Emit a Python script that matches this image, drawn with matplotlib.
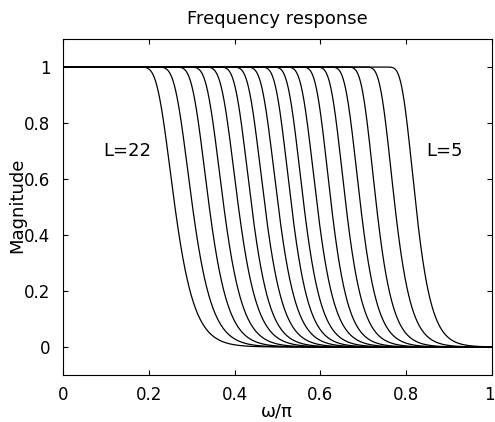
import numpy as np
import matplotlib
matplotlib.use("Agg")
import matplotlib.pyplot as plt
import matplotlib.transforms as mtransforms

plt.rcParams['font.family'] = ['DejaVu Sans']

# Half-magnitude frequencies (omega/pi) of each curve (left: L=22 ... right: L=5)
cutoffs = [0.261, 0.302, 0.341, 0.375, 0.409, 0.440, 0.471, 0.502, 0.533,
           0.562, 0.593, 0.626, 0.660, 0.694, 0.731, 0.774, 0.823]
# Transition widths (omega/pi) of each curve
widths = [0.031, 0.031, 0.030, 0.030, 0.030, 0.029, 0.029, 0.029, 0.028,
          0.028, 0.028, 0.027, 0.027, 0.027, 0.026, 0.026, 0.025]
x_ticks = [0, 0.2, 0.4, 0.6, 0.8, 1]
y_ticks = [0, 0.2, 0.4, 0.6, 0.8, 1]
tick_labels = ["0", "0.2", "0.4", "0.6", "0.8", "1"]
labels = ["L=22", "L=5"]
label_pos = [(0.149, 0.70), (0.890, 0.70)]


def response(w, c, s):
    z = -np.log(np.log(2.0)) + (w - c) / s
    return 1.0 - np.exp(-np.exp(-z))


fig = plt.figure(figsize=(4.95, 4.22), dpi=100)
ax = fig.add_axes([63 / 495, 1 - 375 / 422, 429 / 495, 336 / 422])
w = np.linspace(0, 1, 1500)
for c, s in zip(cutoffs, widths):
    ax.plot(w, response(w, c, s), color='black', lw=0.9)

ax.set_xlim(0, 1)
ax.set_ylim(-0.1, 1.1)
ax.set_xticks(x_ticks)
ax.set_xticklabels(tick_labels)
ax.set_yticks(y_ticks)
ax.set_yticklabels(tick_labels)
ax.tick_params(direction='in', top=True, right=True, labelsize=12, length=3.5,
               width=0.8)
ax.tick_params(axis='x', pad=8)
ax.tick_params(axis='y', pad=9)
# keep the last x tick label inside the figure edge
last = ax.get_xticklabels()[-1]
last.set_horizontalalignment('right')
last.set_transform(last.get_transform() +
                   mtransforms.ScaledTranslation(3 / 100, 0, fig.dpi_scale_trans))
for sp in ax.spines.values():
    sp.set_linewidth(0.8)
fig.text(277 / 495, 1 - 19 / 422, "Frequency response", fontsize=13,
         ha='center', va='center')
fig.text(277 / 495, 1 - 411 / 422, "ω/π", fontsize=13, ha='center', va='center')
fig.text(17 / 495, 1 - 205 / 422, "Magnitude", fontsize=13, ha='center',
         va='center', rotation=90)
for t, (x, y) in zip(labels, label_pos):
    ax.text(x, y, t, fontsize=13, ha='center', va='center')

fig.savefig("out.png", dpi=100)
